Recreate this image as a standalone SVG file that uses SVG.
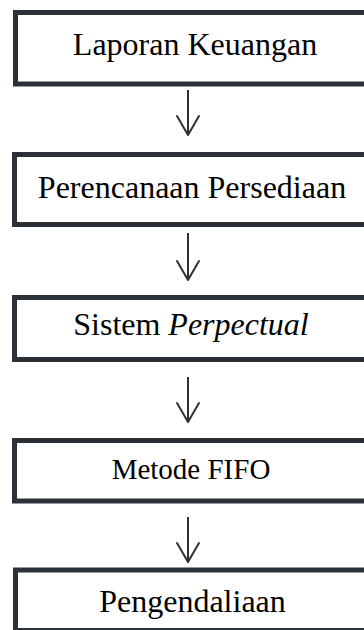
<svg xmlns="http://www.w3.org/2000/svg" width="364" height="630" viewBox="0 0 364 630">
  <defs>
    <marker id="chev" markerUnits="userSpaceOnUse" viewBox="-22 -13 25 26" refX="0" refY="0" markerWidth="25" markerHeight="26" orient="auto" overflow="visible">
      <path d="M-19,-11 L0,0 L-19,11" fill="none" stroke="#2b3237" stroke-width="2" stroke-linejoin="round" stroke-linecap="round"/>
    </marker>
  </defs>
  <style>
    .box { fill: #ffffff; stroke: #2b3237; stroke-width: 5; }
    .lbl { font-family: "Liberation Serif", "Times New Roman", serif; fill: #000000; text-anchor: middle; }
    .conn { stroke: #2b3237; stroke-width: 2; fill: none; marker-end: url(#chev); }
  </style>
  <rect width="364" height="630" fill="#ffffff"/>
  <g id="connectors">
    <line class="conn" x1="188" y1="90" x2="188" y2="135"/>
    <line class="conn" x1="188" y1="233" x2="188" y2="280"/>
    <line class="conn" x1="188" y1="377" x2="188" y2="422"/>
    <line class="conn" x1="188" y1="517" x2="188" y2="562"/>
  </g>
  <g id="node1">
    <rect class="box" x="15.5" y="12.5" width="370" height="71.5"/>
    <text class="lbl" x="195" y="55" font-size="32">Laporan Keuangan</text>
  </g>
  <g id="node2">
    <rect class="box" x="14.5" y="154.5" width="370" height="70"/>
    <text class="lbl" x="192" y="198" font-size="32">Perencanaan Persediaan</text>
  </g>
  <g id="node3">
    <rect class="box" x="14.5" y="297.5" width="370" height="62"/>
    <text class="lbl" x="191" y="335" font-size="32">Sistem <tspan font-style="italic">Perpectual</tspan></text>
  </g>
  <g id="node4">
    <rect class="box" x="14.5" y="440.5" width="370" height="60.5"/>
    <text class="lbl" x="191" y="479" font-size="29">Metode FIFO</text>
  </g>
  <g id="node5">
    <rect class="box" x="15.5" y="570" width="370" height="60.5"/>
    <text class="lbl" x="192.5" y="612" font-size="32">Pengendaliaan</text>
  </g>
</svg>
